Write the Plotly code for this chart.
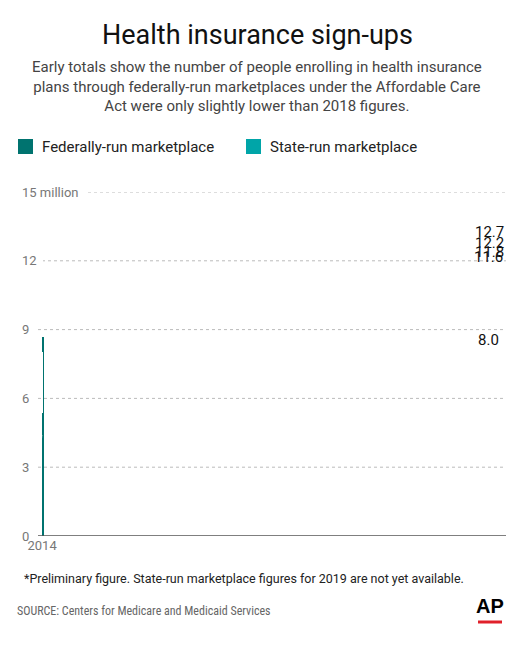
import plotly.graph_objects as go

years = ["2014", "2015", "2016", "2017", "2018", "2019"]
federal = [5.4, 8.8, 9.6, 9.2, 8.7, 8.5]
state = [2.6, 2.8, 3.1, 3.0, 3.0, None]
totals = [8.0, 11.6, 12.7, 12.2, 11.8, None]
fed_labels = ["5.4", "8.8", "9.6", "9.2", "8.7", ""]
yticks = [0, 3, 6, 9, 12, 15]
ytick_labels = ["0", "3", "6", "9", "12", "15 million"]

OFF = 8  # page body margin
W, H = 514, 650
L, R, T, B = 42, 506, 192, 536
FED = "#00736f"
ST = "#00a5a8"

def px(x):
    return (x - L) / (R - L)

def py(y):
    return (B - y) / (B - T)

fig = go.Figure()
fig.add_bar(x=years, y=federal, marker_color=FED, marker_line_width=0, width=0.72,
            text=fed_labels, textposition="inside", insidetextanchor="middle",
            textfont=dict(color="white", size=15, family="Roboto"), hoverinfo="skip")
fig.add_bar(x=years, y=state, marker_color=ST, marker_line=dict(color="white", width=1), width=0.72,
            text=[f"{v:.1f}" if v else "" for v in state], textposition="inside",
            insidetextanchor="middle",
            textfont=dict(color="white", size=15, family="Roboto"), hoverinfo="skip")

ann = []
shapes = []
for yr, t in zip(years, totals):
    if t:
        ann.append(dict(x=yr, y=t, text=f"{t:.1f}", showarrow=False, yanchor="bottom", yshift=2,
                        font=dict(size=15, color="#111", family="Roboto")))
ann.append(dict(x="2019", y=federal[5], text="8.5<sup>*</sup>", showarrow=False, yanchor="top",
                yshift=-4, font=dict(size=15, color="white", family="Roboto")))
label_end = {0: 38, 3: 38, 6: 38, 9: 38, 12: 42, 15: 88}
for v, lab in zip(yticks, ytick_labels):
    ann.append(dict(xref="paper", x=px(20), y=v, text=lab, showarrow=False, xanchor="left",
                    yanchor="middle", font=dict(size=13, color="#777", family="Roboto")))
    if v > 0:
        shapes.append(dict(type="line", xref="paper", x0=px(label_end[v]), x1=1, y0=v, y1=v,
                           line=dict(color="#bbb", width=1, dash="dot"), layer="below"))
shapes.append(dict(type="line", xref="paper", x0=px(38), x1=1, y0=0, y1=0,
                   line=dict(color="#555", width=1.5)))

for x0, c, lab in [(18, FED, "Federally-run marketplace"), (246, ST, "State-run marketplace")]:
    shapes.append(dict(type="rect", xref="paper", yref="paper", x0=px(x0), x1=px(x0 + 15),
                       y0=py(154), y1=py(139), fillcolor=c, line_width=0))
    ann.append(dict(xref="paper", yref="paper", x=px(x0 + 22), y=py(147), text=lab, showarrow=False,
                    xanchor="left", yanchor="middle", font=dict(size=15, color="#222", family="Roboto")))

ann.append(dict(xref="paper", yref="paper", x=px(257), y=py(35), text="Health insurance sign-ups",
                showarrow=False, xanchor="center", yanchor="middle",
                font=dict(size=27, color="#111", family="Roboto")))
ann.append(dict(xref="paper", yref="paper", x=px(257), y=py(87),
                text="Early totals show the number of people enrolling in health insurance<br>"
                     "plans through federally-run marketplaces under the Affordable Care<br>"
                     "Act were only slightly lower than 2018 figures.",
                showarrow=False, align="center", xanchor="center", yanchor="middle",
                font=dict(size=15, color="#444", family="Roboto")))
ann.append(dict(xref="paper", yref="paper", x=px(22), y=py(578),
                text="*Preliminary figure. State-run marketplace figures for 2019 are not yet available.",
                showarrow=False, xanchor="left", yanchor="middle",
                font=dict(size=12.5, color="#222", family="Roboto")))
ann.append(dict(xref="paper", yref="paper", x=px(15), y=py(611),
                text="SOURCE: Centers for Medicare and Medicaid Services",
                showarrow=False, xanchor="left", yanchor="middle",
                font=dict(size=12, color="#666", family="Roboto Condensed, Roboto")))
ann.append(dict(xref="paper", yref="paper", x=px(490), y=py(606), text="<b>AP</b>",
                showarrow=False, xanchor="center", yanchor="middle",
                font=dict(size=20, color="#000", family="Arial")))
shapes.append(dict(type="line", xref="paper", yref="paper", x0=px(478), x1=px(502), y0=py(622), y1=py(622),
                   line=dict(color="#e0202a", width=3)))

fig.update_layout(
    width=W, height=H, barmode="stack", showlegend=False,
    margin=dict(l=L - OFF, r=W - R + OFF, t=T - OFF, b=H - B + OFF),
    paper_bgcolor="white", plot_bgcolor="white",
    xaxis=dict(type="category", showgrid=False, tickfont=dict(size=13, color="#777", family="Roboto"),
               ticks="", showline=False),
    yaxis=dict(range=[0, 15], showgrid=False, showticklabels=False, zeroline=False),
    annotations=ann, shapes=shapes, bargap=0.28,
)
fig.write_html("out.html")
